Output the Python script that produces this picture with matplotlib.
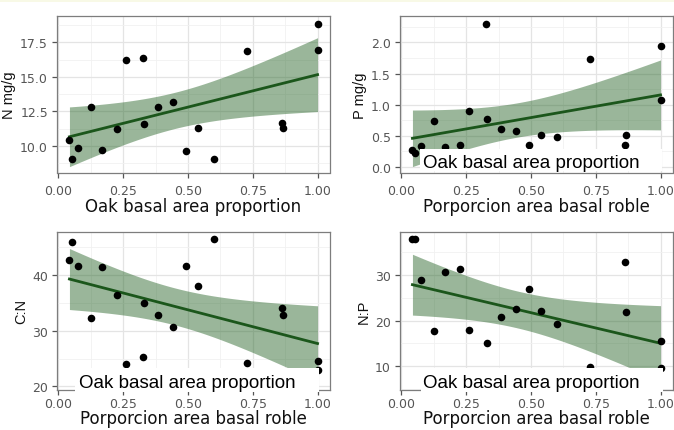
import numpy as np
import matplotlib.pyplot as plt
from matplotlib.patches import Rectangle

# oak basal area proportion (same plots in all four panels)
oak = [0.043, 0.054, 0.075, 0.127, 0.169, 0.228, 0.262, 0.327, 0.332, 0.386,
       0.442, 0.494, 0.537, 0.602, 0.726, 0.863, 0.868, 1.0, 1.0]
n_mg = [10.41, 9.08, 9.88, 12.81, 9.71, 11.21, 16.22, 16.39, 11.57, 12.81,
        13.15, 9.64, 11.28, 9.08, 16.90, 11.67, 11.26, 18.83, 16.92]
p_mg = [0.27, 0.23, 0.34, 0.73, 0.32, 0.35, 0.90, 2.29, 0.77, 0.61,
        0.58, 0.35, 0.51, 0.48, 1.73, 0.35, 0.51, 1.95, 1.08]
c_n = [42.75, 45.9, 41.6, 32.2, 41.4, 36.4, 24.1, 25.2, 35.0, 32.8,
       30.7, 41.6, 38.0, 46.5, 24.2, 34.1, 32.9, 22.9, 24.6]
n_p = [37.9, 37.9, 29.0, 17.6, 30.6, 31.3, 18.0, 7.1, 15.1, 20.8,
       22.6, 27.0, 22.0, 19.2, 9.8, 32.9, 21.9, 9.6, 15.5]

xticks = [0.0, 0.25, 0.5, 0.75, 1.0]
xticklabels = ['0.00', '0.25', '0.50', '0.75', '1.00']
xlab_en = 'Oak basal area proportion'
xlab_es = 'Porporcion area basal roble'

T975 = 2.110  # t quantile, 17 df (n = 19)

W, H = 674, 431


def fpos(x0, y0, x1, y1):
    # pixel box (top-left origin) -> figure fraction [l, b, w, h]
    return [x0 / W, 1 - y1 / H, (x1 - x0) / W, (y1 - y0) / H]


fig = plt.figure(figsize=(W / 100, H / 100), dpi=100)

# position, values, ylabel, xlabel, yticks, yticklabels, minor yticks, ylim, xtick pad, xlabel pad
panels = [
    (fpos(57, 17.3, 330, 173.5), n_mg, 'N mg/g', xlab_en,
     [10.0, 12.5, 15.0, 17.5], ['10.0', '12.5', '15.0', '17.5'],
     [8.75, 11.25, 13.75, 16.25, 18.75], (8.07, 19.39), 4.5, 0.5),
    (fpos(400, 17.3, 673, 173.5), p_mg, 'P mg/g', xlab_es,
     [0.0, 0.5, 1.0, 1.5, 2.0], ['0.0', '0.5', '1.0', '1.5', '2.0'],
     [0.25, 0.75, 1.25, 1.75, 2.25], (-0.09, 2.42), 4.5, 0.5),
    (fpos(57, 233.3, 330, 390.5), c_n, 'C:N', xlab_es,
     [20, 30, 40], ['20', '30', '40'], [25, 35, 45], (19.46, 47.65), 2, -1),
    (fpos(400, 233.3, 673, 390.5), n_p, 'N:P', xlab_es,
     [10, 20, 30], ['10', '20', '30'], [5, 15, 25, 35], (4.88, 39.35), 2, -1),
]

for pos, yv, ylab, xlab, yt, ytl, ymin_, ylim, xpad, lpad in panels:
    ax = fig.add_axes(pos)
    x = np.array(oak)
    y = np.array(yv)
    # lm fit with 95% confidence band
    b, a = np.polyfit(x, y, 1)
    n = len(x)
    s = np.sqrt(np.sum((y - (a + b * x)) ** 2) / (n - 2))
    sxx = np.sum((x - x.mean()) ** 2)
    xs = np.linspace(x.min(), x.max(), 80)
    fit = a + b * xs
    se = s * np.sqrt(1 / n + (xs - x.mean()) ** 2 / sxx)
    ax.fill_between(xs, fit - T975 * se, fit + T975 * se, color='#1f5f1f',
                    alpha=0.45, lw=0, zorder=2)
    ax.plot(xs, fit, color='#1b561b', lw=2.0, zorder=3)
    ax.scatter(x, y, s=30, color='black', lw=0, zorder=4)

    ax.set_xlim(-0.005, 1.048)
    ax.set_ylim(*ylim)
    ax.set_xticks(xticks)
    ax.set_xticklabels(xticklabels)
    ax.set_xticks([0.125, 0.375, 0.625, 0.875], minor=True)
    ax.set_yticks(yt)
    ax.set_yticklabels(ytl)
    ax.set_yticks(ymin_, minor=True)
    ax.grid(which='major', color='#e4e4e4', lw=0.9, zorder=0)
    ax.grid(which='minor', color='#f1f1f1', lw=0.6, zorder=0)
    ax.set_axisbelow(True)
    ax.tick_params(which='major', length=3.5, width=0.9, color='#555555',
                   labelsize=9, labelcolor='#555555', pad=3)
    ax.tick_params(axis='x', which='major', pad=xpad)
    ax.tick_params(which='minor', length=0)
    for sp in ax.spines.values():
        sp.set_color('#7d7d7d')
        sp.set_linewidth(0.9)
    ax.set_xlabel(xlab, fontsize=12, color='#111111', labelpad=lpad)
    ax.set_ylabel(ylab, fontsize=10.5, family='Liberation Sans',
                  color='#111111', labelpad=3)

# pale strip at the very top
fig.add_artist(Rectangle((0, 1 - 3 / H), 1, 3 / H, transform=fig.transFigure,
                         facecolor='#f8f9e6', edgecolor='none', zorder=10))

# pasted white boxes with the English axis title
boxes = [(420, 150, 662, 172, 423, 168),
         (75, 369, 319, 392.5, 79, 388),
         (420.5, 369, 663, 392.5, 423, 388)]
for x0, y0, x1, y1, tx, ty in boxes:
    fig.add_artist(Rectangle((x0 / W, 1 - y1 / H), (x1 - x0) / W, (y1 - y0) / H,
                             transform=fig.transFigure, facecolor='white',
                             edgecolor='none', zorder=10))
    fig.text(tx / W, 1 - ty / H, xlab_en, family='Liberation Sans',
             fontsize=13.5, color='black', ha='left', va='baseline', zorder=11)

fig.savefig('out.png', dpi=100)
